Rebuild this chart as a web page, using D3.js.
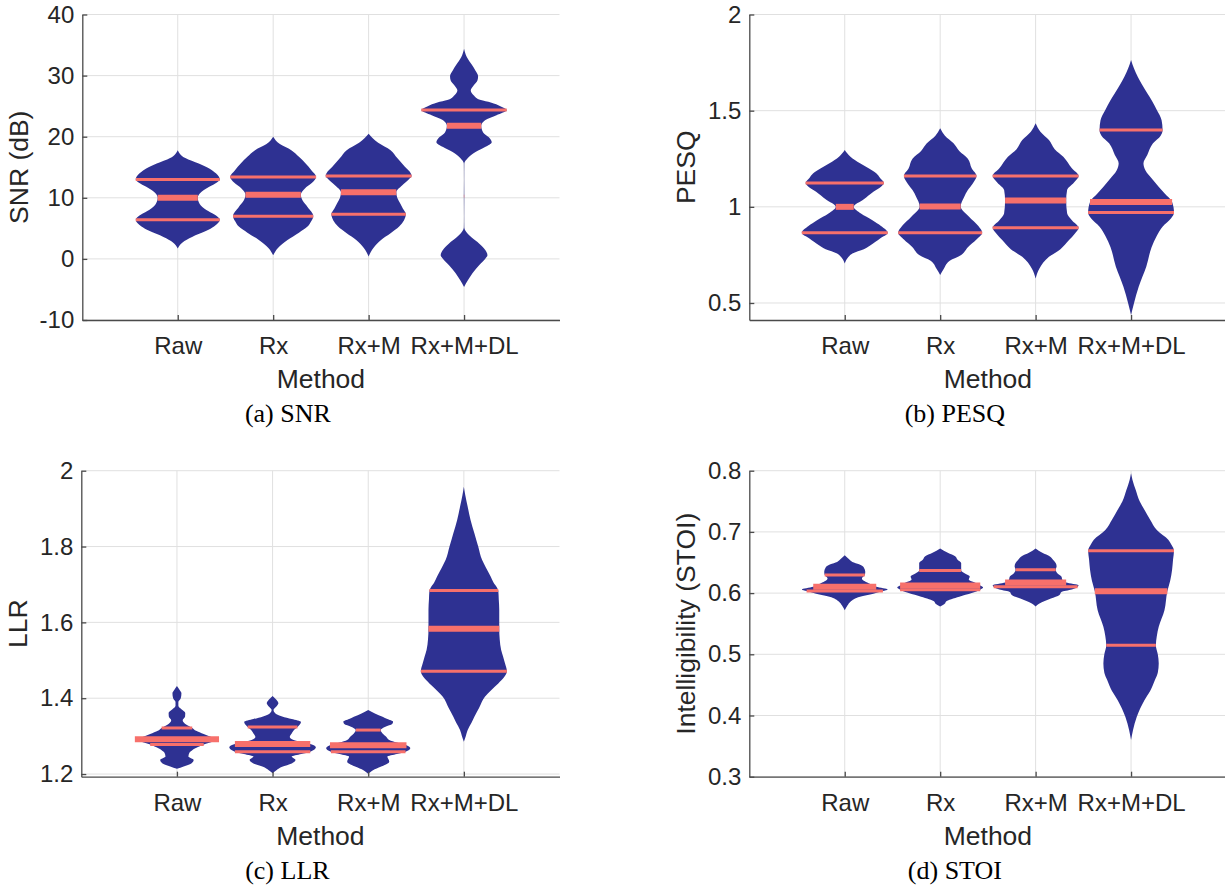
<html>
<head>
<script src="https://cdn.jsdelivr.net/npm/d3@7"></script>
<style>
  body { margin: 0; background: #fff; }
  svg { display: block; }
</style>
</head>
<body>
<svg id="chart"></svg>
<script>
// ---- data ----
const methods = ["Raw", "Rx", "Rx+M", "Rx+M+DL"]

const snrTicks = [-10, 0, 10, 20, 30, 40]
const pesqTicks = [0.5, 1, 1.5, 2]
const llrTicks = [1.2, 1.4, 1.6, 1.8, 2]
const stoiTicks = [0.3, 0.4, 0.5, 0.6, 0.7, 0.8]

const snrLimits = [-10, 40]
const pesqLimits = [0.4116, 2]
const llrLimits = [1.193, 2]
const stoiLimits = [0.3, 0.8]

// violin outlines: [value, half width in category units]
const snrViolins = [
  [[1.7,0],[2.7,0.05],[3.6,0.15],[4.6,0.3],[5.3,0.38],[6.4,0.44],[7.3,0.38],[8.0,0.30],[9.0,0.23],[10.0,0.21],[11.0,0.25],[11.8,0.33],[12.5,0.41],[13.0,0.44],[14.0,0.40],[14.8,0.33],[15.6,0.22],[16.5,0.08],[17.8,0]],
  [[0.6,0],[1.8,0.05],[3.1,0.15],[4.3,0.27],[5.3,0.36],[6.2,0.40],[7.0,0.42],[8.5,0.36],[9.5,0.31],[10.5,0.29],[11.5,0.33],[12.5,0.41],[13.4,0.45],[14.5,0.40],[15.6,0.34],[16.7,0.27],[17.8,0.19],[18.8,0.07],[20.0,0]],
  [[0.4,0],[1.8,0.05],[3.1,0.13],[4.2,0.23],[5.3,0.32],[6.3,0.37],[7.3,0.39],[8.2,0.36],[9.1,0.33],[10.0,0.30],[10.9,0.29],[12.0,0.35],[13.0,0.42],[13.55,0.45],[14.3,0.43],[15.1,0.38],[16.5,0.30],[17.8,0.23],[19.0,0.1],[20.5,0]],
  [[-4.6,0],[-3.5,0.04],[-2.3,0.09],[-1.0,0.16],[0.0,0.22],[0.6,0.245],[1.5,0.22],[2.5,0.16],[3.5,0.08],[4.5,0.02],[5.2,0.002],[7,0.001],[10.25,0.002],[13,0.001],[15.6,0.002],[16.5,0.04],[17.5,0.12],[18.3,0.22],[19.1,0.29],[19.9,0.26],[20.7,0.2],[21.8,0.18],[22.7,0.22],[23.5,0.34],[24.35,0.447],[25.0,0.38],[25.6,0.28],[26.0,0.175],[26.8,0.1],[27.6,0.07],[28.4,0.1],[29.2,0.14],[29.9,0.147],[30.8,0.12],[31.8,0.08],[33.0,0.03],[34.4,0]]
]
const snrQuartiles = [[6.4,10.0,13.0],[7.0,10.5,13.4],[7.3,10.9,13.55],[10.25,21.8,24.35]]

const pesqViolins = [
  [[0.706,0],[0.74,0.04],[0.758,0.08],[0.78,0.2],[0.80,0.27],[0.835,0.37],[0.865,0.45],[0.90,0.38],[0.93,0.29],[0.965,0.17],[1.0,0.094],[1.04,0.2],[1.079,0.3],[1.105,0.38],[1.124,0.41],[1.15,0.37],[1.174,0.33],[1.2,0.25],[1.226,0.16],[1.26,0.06],[1.295,0]],
  [[0.645,0],[0.68,0.04],[0.72,0.1],[0.75,0.22],[0.79,0.29],[0.83,0.38],[0.865,0.44],[0.9,0.40],[0.95,0.30],[1.002,0.215],[1.05,0.25],[1.087,0.29],[1.12,0.34],[1.16,0.38],[1.2,0.33],[1.25,0.29],[1.29,0.2],[1.33,0.14],[1.37,0.05],[1.408,0]],
  [[0.628,0],[0.68,0.04],[0.74,0.14],[0.78,0.26],[0.827,0.35],[0.86,0.41],[0.891,0.45],[0.93,0.38],[0.966,0.33],[1.033,0.32],[1.087,0.33],[1.125,0.40],[1.16,0.45],[1.2,0.38],[1.26,0.29],[1.30,0.2],[1.347,0.14],[1.39,0.05],[1.434,0]],
  [[0.437,0],[0.498,0.03],[0.585,0.08],[0.69,0.16],[0.79,0.215],[0.85,0.27],[0.897,0.33],[0.94,0.42],[0.97,0.45],[1.025,0.43],[1.07,0.35],[1.14,0.23],[1.19,0.15],[1.226,0.13],[1.27,0.17],[1.33,0.23],[1.37,0.31],[1.4,0.33],[1.45,0.32],[1.503,0.27],[1.55,0.22],[1.59,0.17],[1.64,0.11],[1.676,0.07],[1.72,0.03],[1.763,0]]
]
const pesqQuartiles = [[0.865,1.0,1.124],[0.865,1.002,1.16],[0.891,1.033,1.16],[0.97,1.025,1.4]]

const llrViolins = [
  [[1.214,0],[1.22,0.07],[1.228,0.15],[1.237,0.175],[1.246,0.12],[1.256,0.13],[1.263,0.16],[1.271,0.22],[1.278,0.28],[1.286,0.38],[1.292,0.44],[1.298,0.36],[1.3055,0.28],[1.314,0.2],[1.3215,0.16],[1.33,0.1],[1.342,0.06],[1.352,0.085],[1.361,0.087],[1.37,0.05],[1.38,0.015],[1.39,0.015],[1.4,0.04],[1.413,0.047],[1.423,0.025],[1.432,0]],
  [[1.202,0],[1.21,0.04],[1.219,0.1],[1.228,0.2],[1.237,0.24],[1.246,0.2],[1.253,0.3],[1.259,0.394],[1.2705,0.453],[1.279,0.394],[1.285,0.3],[1.29,0.22],[1.298,0.18],[1.307,0.2],[1.315,0.22],[1.324,0.26],[1.3375,0.297],[1.345,0.2],[1.352,0.1],[1.36,0.03],[1.369,0.01],[1.378,0.04],[1.3865,0.061],[1.396,0.04],[1.406,0]],
  [[1.2,0],[1.21,0.05],[1.219,0.13],[1.2325,0.22],[1.246,0.2],[1.253,0.3],[1.259,0.39],[1.268,0.44],[1.2757,0.40],[1.283,0.3],[1.29,0.22],[1.298,0.19],[1.307,0.15],[1.316,0.13],[1.325,0.18],[1.332,0.25],[1.338,0.26],[1.345,0.2],[1.351,0.15],[1.36,0.07],[1.369,0]],
  [[1.285,0],[1.3,0.02],[1.316,0.04],[1.335,0.08],[1.351,0.11],[1.375,0.16],[1.404,0.22],[1.42,0.28],[1.439,0.36],[1.455,0.42],[1.471,0.45],[1.492,0.43],[1.51,0.41],[1.527,0.39],[1.555,0.375],[1.583,0.37],[1.61,0.37],[1.633,0.37],[1.66,0.365],[1.684,0.36],[1.69,0.35],[1.705,0.31],[1.721,0.28],[1.745,0.23],[1.765,0.19],[1.8,0.15],[1.835,0.11],[1.87,0.07],[1.905,0.04],[1.935,0.015],[1.958,0]]
]
const llrQuartiles = [[1.278,1.292,1.3215],[1.259,1.279,1.324],[1.259,1.2757,1.316],[1.471,1.583,1.684]]

const stoiViolins = [
  [[0.572,0],[0.58,0.03],[0.586,0.06],[0.594,0.16],[0.599,0.3],[0.6034,0.40],[0.606,0.45],[0.6105,0.33],[0.616,0.25],[0.62,0.2],[0.624,0.18],[0.6295,0.21],[0.635,0.215],[0.642,0.2],[0.647,0.15],[0.651,0.08],[0.656,0.04],[0.662,0]],
  [[0.578,0],[0.583,0.05],[0.586,0.06],[0.594,0.2],[0.6,0.33],[0.6055,0.42],[0.609,0.45],[0.6125,0.42],[0.618,0.35],[0.622,0.3],[0.627,0.31],[0.632,0.26],[0.637,0.22],[0.643,0.22],[0.649,0.22],[0.655,0.18],[0.66,0.16],[0.666,0.08],[0.673,0]],
  [[0.578,0],[0.583,0.04],[0.591,0.16],[0.597,0.25],[0.602,0.27],[0.606,0.38],[0.6105,0.44],[0.613,0.45],[0.6175,0.32],[0.622,0.28],[0.627,0.27],[0.632,0.23],[0.638,0.21],[0.644,0.22],[0.649,0.21],[0.655,0.18],[0.66,0.15],[0.666,0.07],[0.673,0]],
  [[0.36,0],[0.376,0.02],[0.398,0.06],[0.425,0.14],[0.44,0.2],[0.458,0.25],[0.47,0.28],[0.485,0.29],[0.5,0.28],[0.5146,0.26],[0.53,0.27],[0.545,0.29],[0.572,0.35],[0.603,0.38],[0.62,0.41],[0.638,0.43],[0.655,0.44],[0.669,0.45],[0.68,0.42],[0.687,0.39],[0.703,0.27],[0.72,0.2],[0.736,0.14],[0.75,0.09],[0.768,0.05],[0.785,0.015],[0.796,0]]
]
const stoiQuartiles = [[0.6034,0.6105,0.6295],[0.6055,0.6125,0.637],[0.6105,0.6175,0.638],[0.5146,0.603,0.669]]

// ---- drawing ----
const width = 1225, height = 888
const violinColor = "#2e3192"
const lineColor = "#f7706b"
const gridColor = "#e0e0e0"
const axisColor = "#4a4a4a"
const textColor = "#262626"
const sans = "'Liberation Sans', Arial, Helvetica, sans-serif"
const serif = "'Liberation Serif', 'Times New Roman', serif"

const svg = d3.select("#chart").attr("width", width).attr("height", height)
svg.append("rect").attr("width", width).attr("height", height).attr("fill", "#fff")

const panels = [
  { left: 82.3, right: 559.5, top: 14.5, bottom: 320, ticks: snrTicks, limits: snrLimits,
    violins: snrViolins, quartiles: snrQuartiles, ylabel: "SNR (dB)", caption: "(a) SNR" },
  { left: 749.3, right: 1226.5, top: 14.5, bottom: 320, ticks: pesqTicks, limits: pesqLimits,
    violins: pesqViolins, quartiles: pesqQuartiles, ylabel: "PESQ", caption: "(b) PESQ" },
  { left: 81.3, right: 559.5, top: 470.7, bottom: 776.7, ticks: llrTicks, limits: llrLimits,
    violins: llrViolins, quartiles: llrQuartiles, ylabel: "LLR", caption: "(c) LLR" },
  { left: 749.3, right: 1226.5, top: 470.7, bottom: 776.7, ticks: stoiTicks, limits: stoiLimits,
    violins: stoiViolins, quartiles: stoiQuartiles, ylabel: "Intelligibility (STOI)", caption: "(d) STOI" }
]

function drawPanel(p) {
  let g = svg.append("g")
  let x = d3.scaleLinear().domain([0, methods.length + 1]).range([p.left, p.right])
  let y = d3.scaleLinear().domain(p.limits).range([p.bottom, p.top])
  let unit = x(1) - x(0)

  // grid
  g.append("g").selectAll("line")
    .data(p.ticks)
    .join("line")
      .attr("x1", p.left).attr("x2", p.right)
      .attr("y1", d => y(d)).attr("y2", d => y(d))
      .attr("stroke", gridColor).attr("stroke-width", 1)

  g.append("g").selectAll("line")
    .data(methods)
    .join("line")
      .attr("x1", (d, i) => x(i + 1)).attr("x2", (d, i) => x(i + 1))
      .attr("y1", p.top).attr("y2", p.bottom)
      .attr("stroke", gridColor).attr("stroke-width", 1)

  // violins
  p.violins.forEach((prof, i) => {
    let cx = x(i + 1)
    let area = d3.area()
      .curve(d3.curveMonotoneY)
      .y(d => y(d[0]))
      .x0(d => cx - d[1] * unit)
      .x1(d => cx + d[1] * unit)

    g.append("path")
      .attr("d", area(prof))
      .attr("fill", violinColor)

    // half width at any value, linear between outline points
    let halfWidth = d3.scaleLinear()
      .domain(prof.map(d => d[0]))
      .range(prof.map(d => d[1]))

    let q = p.quartiles[i]
    let lines = [
      { v: q[0], w: 3 },
      { v: q[2], w: 3 },
      { v: q[1], w: 6 }
    ]
    g.append("g").selectAll("line")
      .data(lines)
      .join("line")
        .attr("x1", d => cx - halfWidth(d.v) * unit)
        .attr("x2", d => cx + halfWidth(d.v) * unit)
        .attr("y1", d => y(d.v)).attr("y2", d => y(d.v))
        .attr("stroke", lineColor)
        .attr("stroke-width", d => d.w)
  })

  // axes
  let yAxis = d3.axisLeft(y)
    .tickValues(p.ticks)
    .tickFormat(d => String(d))
    .tickSizeInner(-5).tickSizeOuter(0).tickPadding(8)

  let xAxis = d3.axisBottom(x)
    .tickValues(methods.map((d, i) => i + 1))
    .tickFormat(d => methods[d - 1])
    .tickSizeInner(-5).tickSizeOuter(0).tickPadding(17)

  let ya = g.append("g").attr("transform", `translate(${p.left},0)`).call(yAxis)
  let xa = g.append("g").attr("transform", `translate(0,${p.bottom})`).call(xAxis)

  ;[ya, xa].forEach(a => {
    a.attr("font-family", sans).attr("font-size", 24)
    a.select(".domain").attr("stroke", axisColor).attr("stroke-width", 1.3)
    a.selectAll(".tick line").attr("stroke", axisColor).attr("stroke-width", 1.3)
    a.selectAll(".tick text").attr("fill", textColor)
  })

  // labels
  g.append("text")
    .attr("transform", `translate(${p.left - 54},${(p.top + p.bottom) / 2}) rotate(-90)`)
    .attr("text-anchor", "middle")
    .attr("font-family", sans).attr("font-size", 26.5)
    .attr("fill", textColor)
    .text(p.ylabel)

  g.append("text")
    .attr("x", (p.left + p.right) / 2).attr("y", p.bottom + 68)
    .attr("text-anchor", "middle")
    .attr("font-family", sans).attr("font-size", 26.5)
    .attr("fill", textColor)
    .text("Method")

  g.append("text")
    .attr("x", (p.left + p.right) / 2 - 33).attr("y", p.bottom + 102)
    .attr("text-anchor", "middle")
    .attr("font-family", serif).attr("font-size", 26)
    .attr("fill", "#000")
    .text(p.caption)
}

panels.forEach(drawPanel)
</script>
</body>
</html>
